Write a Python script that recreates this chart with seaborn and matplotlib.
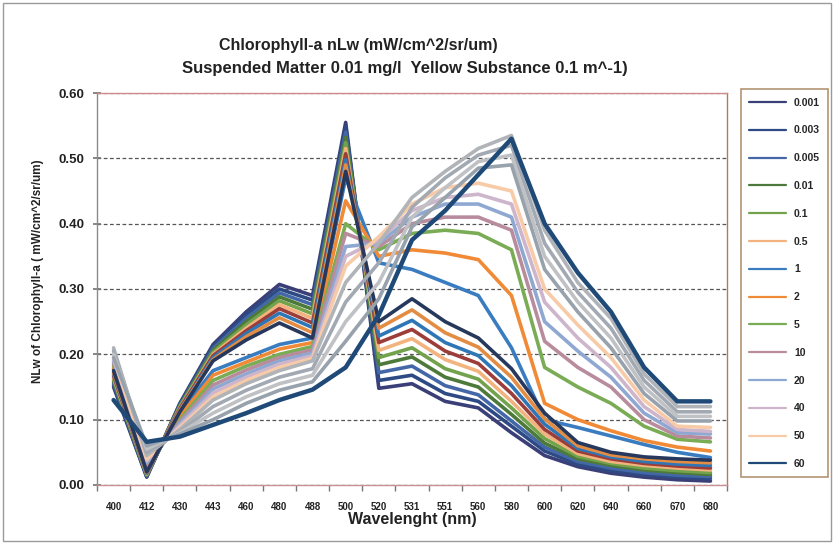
import matplotlib
matplotlib.use("Agg")
import matplotlib.pyplot as plt
from matplotlib.patches import Rectangle
import seaborn as sns
import pandas as pd

# wavelength categories (nm)
wavelengths = ["400", "412", "430", "443", "460", "480", "488", "500", "520", "531",
               "551", "560", "580", "600", "620", "640", "660", "670", "680"]

# nLw curves, one list per chlorophyll concentration
chl_0_001 = [0.150, 0.012, 0.125, 0.215, 0.265, 0.307, 0.290, 0.555, 0.148, 0.155, 0.128, 0.118, 0.080, 0.045, 0.028, 0.018, 0.012, 0.008, 0.006]
chl_0_003 = [0.153, 0.013, 0.124, 0.212, 0.260, 0.300, 0.283, 0.548, 0.160, 0.168, 0.140, 0.128, 0.090, 0.052, 0.032, 0.022, 0.016, 0.012, 0.010]
chl_0_005 = [0.156, 0.014, 0.122, 0.209, 0.255, 0.294, 0.276, 0.540, 0.172, 0.182, 0.152, 0.138, 0.098, 0.058, 0.036, 0.026, 0.019, 0.015, 0.013]
chl_0_01 = [0.159, 0.015, 0.121, 0.206, 0.250, 0.288, 0.269, 0.532, 0.184, 0.196, 0.165, 0.150, 0.108, 0.064, 0.040, 0.030, 0.023, 0.019, 0.016]
chl_0_1 = [0.162, 0.016, 0.120, 0.203, 0.245, 0.282, 0.262, 0.524, 0.195, 0.210, 0.178, 0.162, 0.118, 0.071, 0.044, 0.033, 0.026, 0.022, 0.019]
chl_0_5 = [0.165, 0.017, 0.118, 0.200, 0.240, 0.276, 0.255, 0.515, 0.206, 0.224, 0.192, 0.174, 0.128, 0.078, 0.048, 0.036, 0.030, 0.026, 0.023]
chl_1 = [0.178, 0.022, 0.110, 0.175, 0.195, 0.215, 0.225, 0.470, 0.340, 0.330, 0.310, 0.290, 0.210, 0.100, 0.088, 0.075, 0.062, 0.050, 0.042]
chl_2 = [0.181, 0.025, 0.105, 0.168, 0.188, 0.208, 0.218, 0.435, 0.350, 0.360, 0.355, 0.345, 0.290, 0.125, 0.100, 0.083, 0.068, 0.058, 0.052]
chl_5 = [0.184, 0.028, 0.100, 0.160, 0.182, 0.200, 0.212, 0.400, 0.360, 0.385, 0.390, 0.385, 0.360, 0.180, 0.150, 0.125, 0.090, 0.070, 0.066]
chl_10 = [0.187, 0.031, 0.097, 0.153, 0.176, 0.195, 0.207, 0.385, 0.365, 0.400, 0.410, 0.410, 0.390, 0.220, 0.180, 0.150, 0.100, 0.075, 0.072]
chl_20 = [0.190, 0.034, 0.094, 0.147, 0.170, 0.190, 0.202, 0.365, 0.370, 0.410, 0.430, 0.430, 0.410, 0.250, 0.205, 0.165, 0.110, 0.080, 0.078]
chl_40 = [0.193, 0.037, 0.091, 0.141, 0.165, 0.185, 0.198, 0.350, 0.375, 0.420, 0.440, 0.445, 0.430, 0.280, 0.225, 0.180, 0.120, 0.085, 0.082]
chl_50 = [0.196, 0.040, 0.088, 0.135, 0.160, 0.180, 0.194, 0.335, 0.380, 0.430, 0.455, 0.462, 0.450, 0.300, 0.245, 0.195, 0.130, 0.090, 0.088]
chl_60 = [0.130, 0.066, 0.074, 0.092, 0.110, 0.130, 0.146, 0.180, 0.260, 0.375, 0.420, 0.475, 0.530, 0.400, 0.325, 0.265, 0.180, 0.128, 0.128]
# series that do not fit in the (truncated) legend
chl_70 = [0.167, 0.018, 0.117, 0.198, 0.236, 0.270, 0.248, 0.507, 0.218, 0.238, 0.205, 0.186, 0.140, 0.085, 0.052, 0.040, 0.033, 0.029, 0.026]
chl_80 = [0.170, 0.018, 0.115, 0.195, 0.232, 0.263, 0.241, 0.498, 0.228, 0.252, 0.218, 0.198, 0.152, 0.093, 0.056, 0.043, 0.036, 0.032, 0.030]
chl_90 = [0.172, 0.019, 0.114, 0.192, 0.227, 0.256, 0.233, 0.490, 0.240, 0.268, 0.233, 0.211, 0.165, 0.101, 0.060, 0.046, 0.040, 0.036, 0.034]
chl_100 = [0.175, 0.020, 0.112, 0.190, 0.222, 0.248, 0.225, 0.480, 0.250, 0.285, 0.250, 0.225, 0.178, 0.110, 0.065, 0.050, 0.043, 0.040, 0.038]
chl_110 = [0.210, 0.045, 0.085, 0.130, 0.155, 0.175, 0.190, 0.310, 0.370, 0.440, 0.480, 0.515, 0.535, 0.390, 0.310, 0.255, 0.170, 0.120, 0.120]
chl_120 = [0.205, 0.050, 0.082, 0.120, 0.145, 0.165, 0.178, 0.280, 0.340, 0.425, 0.470, 0.505, 0.520, 0.370, 0.295, 0.240, 0.160, 0.112, 0.112]
chl_130 = [0.200, 0.055, 0.080, 0.110, 0.135, 0.155, 0.168, 0.250, 0.310, 0.410, 0.455, 0.495, 0.505, 0.350, 0.280, 0.225, 0.150, 0.105, 0.105]
chl_140 = [0.195, 0.060, 0.078, 0.100, 0.125, 0.145, 0.158, 0.220, 0.285, 0.395, 0.440, 0.485, 0.490, 0.330, 0.265, 0.210, 0.140, 0.098, 0.098]

series_names = ["0.001", "0.003", "0.005", "0.01", "0.1", "0.5", "1", "2", "5", "10",
                "20", "40", "50", "60", "70", "80", "90", "100", "110", "120", "130", "140"]
series_values = [chl_0_001, chl_0_003, chl_0_005, chl_0_01, chl_0_1, chl_0_5, chl_1, chl_2,
                 chl_5, chl_10, chl_20, chl_40, chl_50, chl_60, chl_70, chl_80, chl_90,
                 chl_100, chl_110, chl_120, chl_130, chl_140]
series_colors = ["#3a3f78", "#2d4a84", "#4467a8", "#4d7a3b", "#72a24c", "#f2b37e",
                 "#3a7cc0", "#f08a36", "#7aac55", "#b88c9c", "#8fa8d2", "#cdb5cb",
                 "#f7cba8", "#1f4a78", "#9c3d3a", "#2f76b6", "#e38c44", "#26385c",
                 "#b0b3b8", "#a3a9b2", "#bfc1c4", "#98a2ad"]
legend_count = 14

rows = []
for name, vals in zip(series_names, series_values):
    for wl, v in zip(wavelengths, vals):
        rows.append((wl, v, name))
df = pd.DataFrame(rows, columns=["Wavelength", "nLw", "Chl"])

sns.set_theme(style="white")
plt.rcParams["font.family"] = ["Liberation Sans", "DejaVu Sans"]
plt.rcParams["font.weight"] = "bold"
plt.rcParams["axes.labelweight"] = "bold"

fig = plt.figure(figsize=(8.34, 5.49), dpi=100)
ax = fig.add_axes([0.1163, 0.1166, 0.7554, 0.714])

sns.lineplot(
    data=df,
    x="Wavelength",
    y="nLw",
    hue="Chl",
    hue_order=series_names,
    palette=dict(zip(series_names, series_colors)),
    sort=False,
    linewidth=2.6,
    legend=False,
    ax=ax,
)

for line, name in zip(ax.lines, series_names):
    line.set_solid_joinstyle("round")
    line.set_solid_capstyle("round")
    if name == "60":
        line.set_linewidth(3.2)
        line.set_zorder(4)

ax.set_xlim(-0.5, len(wavelengths) - 0.5)
ax.set_ylim(0, 0.6)
ax.set_yticks([0, 0.1, 0.2, 0.3, 0.4, 0.5, 0.6])
ax.set_yticklabels(["0.00", "0.10", "0.20", "0.30", "0.40", "0.50", "0.60"],
                   fontsize=9.5, fontweight="bold", color="#222222")
ax.set_xticks(range(len(wavelengths)))
ax.set_xticklabels(wavelengths, fontsize=7, fontweight="bold", color="#222222")
ax.set_xticks([i - 0.5 for i in range(len(wavelengths) + 1)], minor=True)
ax.tick_params(axis="x", which="major", length=0, pad=12)
ax.tick_params(axis="x", which="minor", length=4, direction="out", color="#777777", bottom=True)
ax.tick_params(axis="y", length=6, direction="inout", color="#777777", left=True, pad=6)

ax.yaxis.grid(True, linestyle=(0, (3, 2)), color="#555555", linewidth=0.9)
ax.set_axisbelow(True)

for side in ["left", "bottom"]:
    ax.spines[side].set_color("#8a8a8a")
ax.spines["top"].set_color("#d08a8a")
ax.spines["bottom"].set_color("#c98f95")
ax.spines["right"].set_color("#b07a5a")
for s in ax.spines.values():
    s.set_linewidth(1.0)

ax.set_xlabel("Wavelenght (nm)", fontsize=11.5, fontweight="bold", labelpad=0, color="#222222")
ax.set_ylabel("NLw of Chlorophyll-a ( mW/cm^2/sr/um)", fontsize=8.5, fontweight="bold",
              color="#222222")
ax.yaxis.set_label_coords(-0.084, 0.546)

fig.text(0.43, 0.918, "Chlorophyll-a nLw (mW/cm^2/sr/um)", ha="center", va="center",
         fontsize=11.5, fontweight="bold", color="#222222")
fig.text(0.486, 0.876, "Suspended Matter 0.01 mg/l  Yellow Substance 0.1 m^-1)", ha="center",
         va="center", fontsize=12, fontweight="bold", color="#222222")

leg = fig.legend(
    ax.lines[:legend_count],
    series_names[:legend_count],
    loc="upper left",
    bbox_to_anchor=(0.882, 0.847),
    fontsize=7.5,
    handlelength=3.5,
    labelspacing=1.71,
    borderpad=0.8,
    frameon=True,
    fancybox=False,
)
leg.get_frame().set_edgecolor("#a07850")
leg.get_frame().set_linewidth(1.2)
for t in leg.get_texts():
    t.set_fontweight("bold")
for h in leg.legend_handles:
    h.set_linewidth(1.6)

fig.add_artist(Rectangle((0.004, 0.014), 0.992, 0.98, transform=fig.transFigure,
                         fill=False, edgecolor="#9a9a9a", linewidth=1.0))

plt.savefig("out.png", dpi=100)
